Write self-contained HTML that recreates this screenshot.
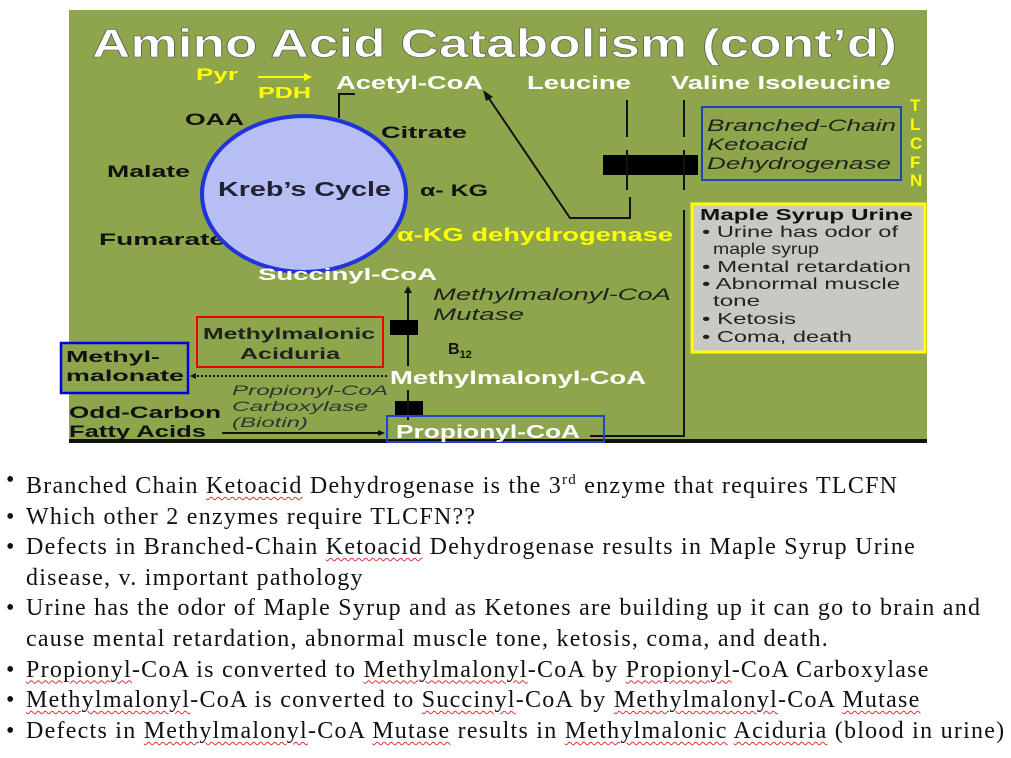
<!DOCTYPE html>
<html><head><meta charset="utf-8"><style>
body{margin:0;width:1011px;height:758px;background:#fff;overflow:hidden;position:relative;font-family:"Liberation Sans",sans-serif}
svg{position:absolute;left:0;top:0}
ul{position:absolute;left:0;top:465px;margin:0;padding:0;list-style:none;font-family:"Liberation Serif",serif;font-size:24px;letter-spacing:1.25px;color:#111}
li{position:relative;padding-left:26px;line-height:30.6px;white-space:nowrap}
li:before{content:"•";position:absolute;left:6px}
.u{text-decoration:underline wavy #d33;text-decoration-thickness:1px;text-underline-offset:3px}
</style></head><body>
<svg width="1011" height="460" font-weight="bold">
<rect x="69" y="10" width="858" height="432" fill="#8da64b"/>
<rect x="69" y="439" width="858" height="4" fill="#111"/>
<text x="92" y="57" font-size="40" fill="#fff" stroke="#555" stroke-width="0.6" textLength="805" lengthAdjust="spacingAndGlyphs">Amino Acid Catabolism (cont’d)</text>
<text x="196" y="80" font-size="17" fill="#ff0" textLength="42" lengthAdjust="spacingAndGlyphs">Pyr</text>
<line x1="258" y1="77" x2="304" y2="77" stroke="#ff0" stroke-width="2"/><polygon points="304,73 312,77 304,81" fill="#ff0"/>
<text x="258" y="98" font-size="16" fill="#ff0" textLength="53" lengthAdjust="spacingAndGlyphs">PDH</text>
<text x="336" y="89" font-size="18" fill="#fff" textLength="147" lengthAdjust="spacingAndGlyphs">Acetyl-CoA</text>
<text x="527" y="89" font-size="18" fill="#fff" textLength="104" lengthAdjust="spacingAndGlyphs">Leucine</text>
<text x="671" y="89" font-size="18" fill="#fff" textLength="220" lengthAdjust="spacingAndGlyphs">Valine Isoleucine</text>
<path d="M355,94 h-16 v24" fill="none" stroke="#111" stroke-width="2"/>
<text x="185" y="125" font-size="17" fill="#111" textLength="59" lengthAdjust="spacingAndGlyphs">OAA</text>
<text x="381" y="138" font-size="17" fill="#111" textLength="86" lengthAdjust="spacingAndGlyphs">Citrate</text>
<text x="107" y="177" font-size="17" fill="#111" textLength="83" lengthAdjust="spacingAndGlyphs">Malate</text>
<text x="99" y="245" font-size="17" fill="#111" textLength="126" lengthAdjust="spacingAndGlyphs">Fumarate</text>
<ellipse cx="304" cy="194" rx="102" ry="78" fill="#b7bef3" stroke="#2233dd" stroke-width="4"/>
<text x="218" y="196" font-size="20" fill="#223" textLength="173" lengthAdjust="spacingAndGlyphs">Kreb’s Cycle</text>
<text x="420" y="196" font-size="17" fill="#111" textLength="68" lengthAdjust="spacingAndGlyphs">α- KG</text>
<text x="397" y="241" font-size="18" fill="#ff0" textLength="276" lengthAdjust="spacingAndGlyphs">α-KG dehydrogenase</text>
<text x="258" y="280" font-size="17" fill="#fff" textLength="179" lengthAdjust="spacingAndGlyphs">Succinyl-CoA</text>
<path d="M488,97 L570,218 H630 V197" fill="none" stroke="#111" stroke-width="2"/>
<polygon points="483,90 493,97 486,101" fill="#111"/>
<line x1="627" y1="100" x2="627" y2="137" stroke="#111" stroke-width="2"/>
<line x1="684" y1="100" x2="684" y2="137" stroke="#111" stroke-width="2"/>
<rect x="603" y="155" width="95" height="20" fill="#000"/>
<line x1="627" y1="150" x2="627" y2="190" stroke="#111" stroke-width="2"/>
<line x1="684" y1="150" x2="684" y2="190" stroke="#111" stroke-width="2"/>
<path d="M684,210 V436 H590" fill="none" stroke="#111" stroke-width="2"/>
<rect x="702" y="107" width="199" height="73" fill="none" stroke="#2244bb" stroke-width="2"/>
<g font-size="17" fill="#222" font-style="italic" font-weight="normal"><text x="707" y="131" textLength="189" lengthAdjust="spacingAndGlyphs">Branched-Chain</text><text x="707" y="150" textLength="100" lengthAdjust="spacingAndGlyphs">Ketoacid</text><text x="707" y="169" textLength="184" lengthAdjust="spacingAndGlyphs">Dehydrogenase</text></g>
<g font-size="17" fill="#ff0"><text x="910" y="111">T</text><text x="910" y="130">L</text><text x="910" y="149">C</text><text x="910" y="168">F</text><text x="910" y="186">N</text></g>
<rect x="692" y="204" width="233" height="148" fill="#c9c9c3" stroke="#ff0" stroke-width="3"/>
<text x="700" y="220" font-size="16" fill="#111" textLength="213" lengthAdjust="spacingAndGlyphs">Maple Syrup Urine</text>
<g font-size="16" fill="#222" font-weight="normal"><text x="702" y="237" textLength="196" lengthAdjust="spacingAndGlyphs">• Urine has odor of</text><text x="713" y="254" textLength="106" lengthAdjust="spacingAndGlyphs">maple syrup</text><text x="702" y="272" textLength="209" lengthAdjust="spacingAndGlyphs">• Mental retardation</text><text x="702" y="289" textLength="198" lengthAdjust="spacingAndGlyphs">• Abnormal muscle</text><text x="713" y="306" textLength="47" lengthAdjust="spacingAndGlyphs">tone</text><text x="702" y="324" textLength="94" lengthAdjust="spacingAndGlyphs">• Ketosis</text><text x="702" y="342" textLength="150" lengthAdjust="spacingAndGlyphs">• Coma, death</text></g>
<line x1="408" y1="292" x2="408" y2="366" stroke="#111" stroke-width="2"/><polygon points="404,293 408,286 412,293" fill="#111"/>
<rect x="390" y="320" width="28" height="15" fill="#000"/>
<g font-size="17" fill="#222" font-style="italic" font-weight="normal"><text x="433" y="300" textLength="238" lengthAdjust="spacingAndGlyphs">Methylmalonyl-CoA</text><text x="433" y="320" textLength="91" lengthAdjust="spacingAndGlyphs">Mutase</text></g>
<text x="448" y="354" font-size="16" fill="#111">B<tspan font-size="11" dy="4">12</tspan></text>
<rect x="197" y="317" width="186" height="50" fill="none" stroke="#e00" stroke-width="2"/>
<text x="203" y="339" font-size="16" fill="#222" textLength="172" lengthAdjust="spacingAndGlyphs">Methylmalonic</text>
<text x="240" y="359" font-size="16" fill="#222" textLength="100" lengthAdjust="spacingAndGlyphs">Aciduria</text>
<rect x="61" y="343" width="127" height="50" fill="#8da64b" stroke="#0000e0" stroke-width="2.5"/>
<text x="66" y="362" font-size="16" fill="#111" textLength="94" lengthAdjust="spacingAndGlyphs">Methyl-</text><text x="66" y="381" font-size="16" fill="#111" textLength="118" lengthAdjust="spacingAndGlyphs">malonate</text>
<line x1="197" y1="376" x2="388" y2="376" stroke="#111" stroke-width="2" stroke-dasharray="2,2"/><polygon points="196,373 190,376 196,379" fill="#111"/>
<text x="390" y="384" font-size="18" fill="#fff" textLength="256" lengthAdjust="spacingAndGlyphs">Methylmalonyl-CoA</text>
<g font-size="14" fill="#333" font-style="italic" font-weight="normal"><text x="232" y="395" textLength="156" lengthAdjust="spacingAndGlyphs">Propionyl-CoA</text><text x="232" y="411" textLength="136" lengthAdjust="spacingAndGlyphs">Carboxylase</text><text x="232" y="427" textLength="76" lengthAdjust="spacingAndGlyphs">(Biotin)</text></g>
<rect x="395" y="401" width="28" height="15" fill="#000"/>
<line x1="408" y1="390" x2="408" y2="420" stroke="#111" stroke-width="2"/>
<text x="69" y="418" font-size="17" fill="#111" textLength="152" lengthAdjust="spacingAndGlyphs">Odd-Carbon</text><text x="69" y="437" font-size="17" fill="#111" textLength="137" lengthAdjust="spacingAndGlyphs">Fatty Acids</text>
<line x1="222" y1="433" x2="378" y2="433" stroke="#111" stroke-width="2"/><polygon points="378,430 385,433 378,436" fill="#111"/>
<rect x="387" y="416" width="217" height="26" fill="none" stroke="#2244cc" stroke-width="2"/>
<text x="396" y="438" font-size="18" fill="#fff" textLength="184" lengthAdjust="spacingAndGlyphs">Propionyl-CoA</text>
</svg>
<ul>
<li>Branched Chain <span class="u">Ketoacid</span> Dehydrogenase is the 3<sup style="font-size:15px">rd</sup> enzyme that requires TLCFN</li>
<li>Which other 2 enzymes require TLCFN??</li>
<li>Defects in Branched-Chain <span class="u">Ketoacid</span> Dehydrogenase results in Maple Syrup Urine<br>disease, v. important pathology</li>
<li>Urine has the odor of Maple Syrup and as Ketones are building up it can go to brain and<br>cause mental retardation, abnormal muscle tone, ketosis, coma, and death.</li>
<li><span class="u">Propionyl</span>-CoA is converted to <span class="u">Methylmalonyl</span>-CoA by <span class="u">Propionyl</span>-CoA Carboxylase</li>
<li><span class="u">Methylmalonyl</span>-CoA is converted to <span class="u">Succinyl</span>-CoA by <span class="u">Methylmalonyl</span>-CoA <span class="u">Mutase</span></li>
<li>Defects in <span class="u">Methylmalonyl</span>-CoA <span class="u">Mutase</span> results in <span class="u">Methylmalonic</span> <span class="u">Aciduria</span> (blood in urine)</li>
</ul>
</body></html>
